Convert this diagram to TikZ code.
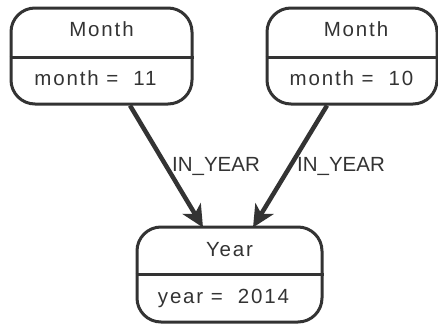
\documentclass[tikz,border=0pt]{standalone}
\usepackage{fontspec}
\setmainfont{Liberation Sans}
\usetikzlibrary{arrows.meta}
\definecolor{ink}{HTML}{333333}
\tikzset{
  box/.style={draw=ink, line width=3pt, rounded corners=24pt, rectangle, inner sep=0pt},
  divider/.style={draw=ink, line width=3pt},
  boxtext/.style={inner sep=0pt, anchor=base, text=ink, font=\fontsize{20.5}{24}\selectfont\addfontfeature{LetterSpace=9}},
  lbl/.style={inner sep=0pt, anchor=base, text=ink, font=\fontsize{20.5}{24}\selectfont},
  rel/.style={draw=ink, line width=4.5pt, -{Stealth[length=22pt, width=21pt, inset=6pt]}},
}
\begin{document}
\begin{tikzpicture}[x=1pt, y=-1pt]
\useasboundingbox (0,0) rectangle (438,324);
% boxes
\node[box, minimum width=181pt, minimum height=96pt] (m1) at (101.5,56) {};
\draw[divider] (m1.west |- 0,57) -- (m1.east |- 0,57);
\node[boxtext] (m1t) at (101.5,36.7) {Month};
\node[boxtext] (m1p) at (95.5,85) {month =\ \ 11};

\node[box, minimum width=170pt, minimum height=96pt] (m2) at (352,56) {};
\draw[divider] (m2.west |- 0,57) -- (m2.east |- 0,57);
\node[boxtext] (m2t) at (356,36.7) {Month};
\node[boxtext] (m2p) at (351.5,85) {month =\ \ 10};

\node[box, minimum width=185pt, minimum height=95pt] (y) at (229.5,274.5) {};
\draw[divider] (y.west |- 0,274) -- (y.east |- 0,274);
\node[boxtext] (yt) at (229.5,256) {Year};
\node[boxtext] (yp) at (223.5,303) {year =\ \ 2014};

% connectors
\draw[rel] ([xshift=28.5pt]m1.south) -- ([xshift=-26.5pt, yshift=-2pt]y.north);
\draw[rel] ([xshift=-25pt]m2.south) -- ([xshift=23.5pt, yshift=-2pt]y.north);
\node[lbl] (l1) at (216,171.5) {IN\_YEAR};
\node[lbl] (l2) at (341,171.5) {IN\_YEAR};
\end{tikzpicture}
\end{document}
